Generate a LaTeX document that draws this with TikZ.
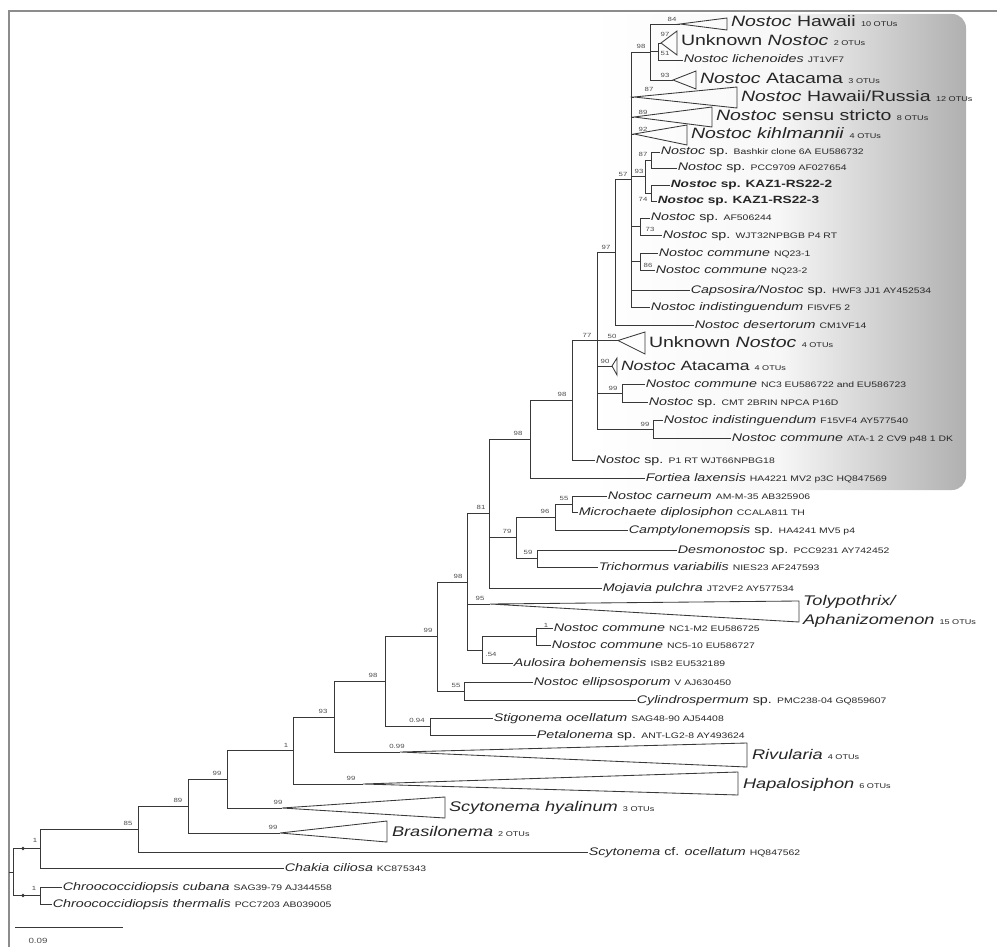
\documentclass[tikz,border=0pt]{standalone}
\usepackage{fontspec}
\setmainfont{Liberation Sans}[FakeStretch=1.3]
\usepackage{tikz}

% accession numbers and OTU counts
\newcommand{\accno}[1]{{\fontsize{8}{9}\selectfont\upshape #1}}
\newcommand{\otus}[1]{{\fontsize{7}{8}\selectfont\upshape #1 OTUs}}
% collapsed clade: apex, right x, top y, bottom y
\newcommand{\fan}[4]{\draw[branch] (#1) -- (#2,#3) -- (#2,#4) -- cycle;}

\begin{document}
\begin{tikzpicture}[x=1pt,y=1pt,yscale=-1,
  branch/.style={draw=black!78, line width=0.85pt},
  leaf/.style={anchor=west, inner sep=0.6pt, text=black!85, font=\fontsize{11}{12}\selectfont, text height=8pt, text depth=2pt},
  clade/.style={anchor=west, inner sep=0.8pt, text=black!85, font=\fontsize{15}{16}\selectfont, text height=11pt, text depth=3pt},
  lowclade/.style={clade, font=\fontsize{14}{15}\selectfont, text height=10pt},
  bs/.style={inner sep=0pt, text=black!70, font=\fontsize{6}{6}\selectfont}]
\useasboundingbox (0,0) rectangle (997,947);

%frame
\draw[black!45, line width=1.5pt] (997,11) -- (9,11) -- (9,947);

%shaded box round the Nostoc clade
\shade[rounded corners=14pt, left color=white, right color=black!31, middle color=black!3] (590,14) rectangle (966,490);

% internal nodes
\coordinate (rootstub) at (9,872);
\coordinate (root) at (13,872);
\coordinate (nA) at (40,848.5);
\coordinate (nC) at (40,895.5);
\coordinate (n85) at (138,829);
\coordinate (n89) at (188,806);
\coordinate (n99c) at (227,779);
\coordinate (n1) at (293,750.5);
\coordinate (n93b) at (334,717);
\coordinate (n98b) at (385,681.5);
\coordinate (n094) at (430,726.5);
\coordinate (n99b) at (437,636.5);
\coordinate (n55b) at (464,691);
\coordinate (n98c) at (467,582);
\coordinate (n54) at (482,650);
\coordinate (n1b) at (536,636.5);
\coordinate (n81) at (489,513.5);
\coordinate (n79) at (516,537.75);
\coordinate (n96) at (555,517);
\coordinate (n55) at (572,504);
\coordinate (n59) at (537,558.5);
\coordinate (n530) at (530,439);
\coordinate (n98e) at (572,400);
\coordinate (n77) at (597,340.5);
\coordinate (n99a) at (622,393);
\coordinate (n99d) at (653,429);
\coordinate (n97) at (615,252);
\coordinate (n57) at (631,179.5);
\coordinate (n98a) at (650,52);
\coordinate (n97b) at (658,51.5);
\coordinate (n93) at (645,176.5);
\coordinate (n87) at (651,160);
\coordinate (n74) at (651,193);
\coordinate (n73) at (640,226.5);
\coordinate (n86) at (640,261.5);

% apexes of collapsed clades
\coordinate (a01) at (680,24);
\coordinate (a02) at (661,43);
\coordinate (a04) at (673,80);
\coordinate (a05) at (634,97);
\coordinate (a06) at (634,117);
\coordinate (a07) at (634,134);
\coordinate (a19) at (618,340.5);
\coordinate (a20) at (612,366);
\coordinate (a33) at (490,604);
\coordinate (a41) at (400,752);
\coordinate (a42) at (363,784);
\coordinate (a43) at (282,808);
\coordinate (a44) at (280,833);

\fan{a01}{727}{18}{30}
\fan{a02}{677}{31}{55}
\fan{a04}{696}{71}{89}
\fan{a05}{737}{87}{108}
\fan{a06}{712}{107}{127}
\fan{a07}{687}{125}{145}
\fan{a19}{645}{332}{354}
\fan{a20}{617}{358}{375}
\fan{a33}{799}{601}{622}
\fan{a41}{747}{743}{767}
\fan{a42}{738}{772}{795}
\fan{a43}{445}{797}{818}
\fan{a44}{387}{821}{842}

% Text Node: collapsed clades
\node[clade] (t01) at (730,23) {\textit{Nostoc} Hawaii \otus{10}};
\node[clade] (t02) at (680,42) {Unknown \textit{Nostoc} \otus{2}};
\node[clade] (t04) at (699,80) {\textit{Nostoc} Atacama \otus{3}};
\node[clade] (t05) at (740,98) {\textit{Nostoc} Hawaii/Russia \otus{12}};
\node[clade] (t06) at (715,117) {\textit{Nostoc} sensu stricto \otus{8}};
\node[clade] (t07) at (690,135) {\textit{Nostoc kihlmannii} \otus{4}};
\node[clade] (t19) at (648,343) {Unknown \textit{Nostoc} \otus{4}};
\node[clade, font=\fontsize{13.5}{14}\selectfont] (t20) at (620,366) {\textit{Nostoc} Atacama \otus{4}};
\node[anchor=west, align=left, inner sep=0.8pt, text=black!85, font=\fontsize{14}{19}\selectfont] (t33) at (802,611) {\textit{Tolypothrix/}\\\textit{Aphanizomenon} \otus{15}};
\node[lowclade] (t41) at (751,756) {\textit{Rivularia} \otus{4}};
\node[lowclade] (t42) at (742,785) {\textit{Hapalosiphon} \otus{6}};
\node[lowclade] (t43) at (448,808) {\textit{Scytonema hyalinum} \otus{3}};
\node[lowclade] (t44) at (391,833) {\textit{Brasilonema} \otus{2}};

% Text Node: single sequences
\node[leaf] (t03) at (683,60) {\textit{Nostoc lichenoides} \accno{JT1VF7}};
\node[leaf] (t08) at (660,152) {\textit{Nostoc} sp. \accno{Bashkir clone 6A EU586732}};
\node[leaf] (t09) at (677,168) {\textit{Nostoc} sp. \accno{PCC9709 AF027654}};
\node[leaf, font=\fontsize{10.5}{12}\selectfont\bfseries] (t10) at (670,185) {\textit{Nostoc} sp. KAZ1-RS22-2};
\node[leaf, font=\fontsize{10.5}{12}\selectfont\bfseries] (t11) at (657,201) {\textit{Nostoc} sp. KAZ1-RS22-3};
\node[leaf] (t12) at (650,218) {\textit{Nostoc} sp. \accno{AF506244}};
\node[leaf] (t13) at (662,235) {\textit{Nostoc} sp. \accno{WJT32NPBGB P4 RT}};
\node[leaf] (t14) at (658,253) {\textit{Nostoc commune} \accno{NQ23-1}};
\node[leaf] (t15) at (655,270) {\textit{Nostoc commune} \accno{NQ23-2}};
\node[leaf] (t16) at (690,290) {\textit{Capsosira/Nostoc} sp. \accno{HWF3 JJ1 AY452534}};
\node[leaf] (t17) at (650,307) {\textit{Nostoc indistinguendum} \accno{FI5VF5 2}};
\node[leaf] (t18) at (694,325) {\textit{Nostoc desertorum} \accno{CM1VF14}};
\node[leaf] (t21) at (645,384) {\textit{Nostoc commune} \accno{NC3 EU586722 and EU586723}};
\node[leaf] (t22) at (648,402) {\textit{Nostoc} sp. \accno{CMT 2BRIN NPCA P16D}};
\node[leaf] (t23) at (663,420) {\textit{Nostoc indistinguendum} \accno{F15VF4 AY577540}};
\node[leaf] (t24) at (731,438) {\textit{Nostoc commune} \accno{ATA-1 2 CV9 p48 1 DK}};
\node[leaf] (t25) at (595,460) {\textit{Nostoc} sp. \accno{P1 RT WJT66NPBG18}};
\node[leaf] (t26) at (645,478) {\textit{Fortiea laxensis} \accno{HA4221 MV2 p3C HQ847569}};
\node[leaf] (t27) at (607,496) {\textit{Nostoc carneum} \accno{AM-M-35 AB325906}};
\node[leaf] (t28) at (578,512) {\textit{Microchaete diplosiphon} \accno{CCALA811 TH}};
\node[leaf] (t29) at (628,530) {\textit{Camptylonemopsis} sp. \accno{HA4241 MV5 p4}};
\node[leaf] (t30) at (677,550) {\textit{Desmonostoc} sp. \accno{PCC9231 AY742452}};
\node[leaf] (t31) at (598,567) {\textit{Trichormus variabilis} \accno{NIES23 AF247593}};
\node[leaf] (t32) at (602,588) {\textit{Mojavia pulchra} \accno{JT2VF2 AY577534}};
\node[leaf] (t34) at (553,628) {\textit{Nostoc commune} \accno{NC1-M2 EU586725}};
\node[leaf] (t35) at (551,645) {\textit{Nostoc commune} \accno{NC5-10 EU586727}};
\node[leaf] (t36) at (513,663) {\textit{Aulosira bohemensis} \accno{ISB2 EU532189}};
\node[leaf] (t37) at (533,682) {\textit{Nostoc ellipsosporum} \accno{V AJ630450}};
\node[leaf] (t38) at (636,700) {\textit{Cylindrospermum} sp. \accno{PMC238-04 GQ859607}};
\node[leaf] (t39) at (493,718) {\textit{Stigonema ocellatum} \accno{SAG48-90 AJ54408}};
\node[leaf] (t40) at (536,735) {\textit{Petalonema} sp. \accno{ANT-LG2-8 AY493624}};
\node[leaf] (t45) at (588,852) {\textit{Scytonema} cf. \textit{ocellatum} \accno{HQ847562}};
\node[leaf] (t46) at (284,868) {\textit{Chakia ciliosa} \accno{KC875343}};
\node[leaf] (t47) at (62,887) {\textit{Chroococcidiopsis cubana} \accno{SAG39-79 AJ344558}};
\node[leaf] (t48) at (52,904) {\textit{Chroococcidiopsis thermalis} \accno{PCC7203 AB039005}};

% branches
\draw[branch] (rootstub) -- (root);
\foreach \p/\c in {root/nA, root/nC, nA/n85, nA/t46.west, nC/t47.west, nC/t48.west,
    n85/n89, n85/t45.west, n89/n99c, n89/a44, n99c/n1, n99c/a43, n1/n93b, n1/a42,
    n93b/n98b, n93b/a41, n98b/n99b, n98b/n094, n094/t39.west, n094/t40.west,
    n99b/n98c, n99b/n55b, n55b/t37.west, n55b/t38.west,
    n98c/n81, n98c/a33, n98c/n54, n54/n1b, n54/t36.west, n1b/t34.west, n1b/t35.west,
    n81/n530, n81/n79, n81/t32.west, n79/n96, n79/n59, n96/n55, n96/t29.west,
    n55/t27.west, n55/t28.west, n59/t30.west, n59/t31.west,
    n530/n98e, n530/t26.west, n98e/n77, n98e/t25.west,
    n77/n97, n77/a19, n77/a20, n77/n99a, n77/n99d,
    n99a/t21.west, n99a/t22.west, n99d/t23.west, n99d/t24.west,
    n97/n57, n97/t18.west,
    n57/n98a, n57/a05, n57/a06, n57/a07, n57/n93, n57/n73, n57/n86, n57/t16.west, n57/t17.west,
    n93/n87, n93/n74, n87/t08.west, n87/t09.west, n74/t10.west, n74/t11.west,
    n73/t12.west, n73/t13.west, n86/t14.west, n86/t15.west,
    n98a/a01, n98a/n97b, n98a/a04, n97b/a02, n97b/t03.west}
  \draw[branch] (\p) |- (\c);

% markers on the basal branches
\fill[black!78] (23,848.5) circle (1.8);
\fill[black!78] (23,895.5) circle (1.8);

% support values
\foreach \v/\x/\y [count=\i] in {84/672/19, 98/641/46, 97/665/34, 51/665/53, 93/665/75,
    87/649/89, 89/643/112, 92/643/129, 87/643/154, 93/639/171, 57/623/174, 74/643/199,
    73/650/229, 86/648/265, 97/606/247, 77/587/335, 50/612/336, 90/605/361, 99/613/388,
    99/645/424, 98/562/394, 98/518/433, 55/564/498, 96/545/511, 79/507/531, 59/528/552,
    81/481/507, 95/480/598, 98/458/576, 1/546/625, .54/491/654, 99/428/630, 55/456/685,
    98/373/675, 0.94/417/720, 93/323/711, 0.99/397/746, 1/286/745, 99/351/778, 99/217/773,
    99/278/802, 89/178/800, 99/273/827, 85/128/823, 1/35/840, 1/34/888}
  \node[bs] (bs\i) at (\x,\y) {\v};

% scale bar
\coordinate (sb1) at (15,927);
\coordinate (sb2) at (123,927);
\draw[branch] (sb1) -- (sb2);
\node[bs, font=\fontsize{7.5}{8}\selectfont] (sblabel) at (38,941) {0.09};

\end{tikzpicture}
\end{document}
